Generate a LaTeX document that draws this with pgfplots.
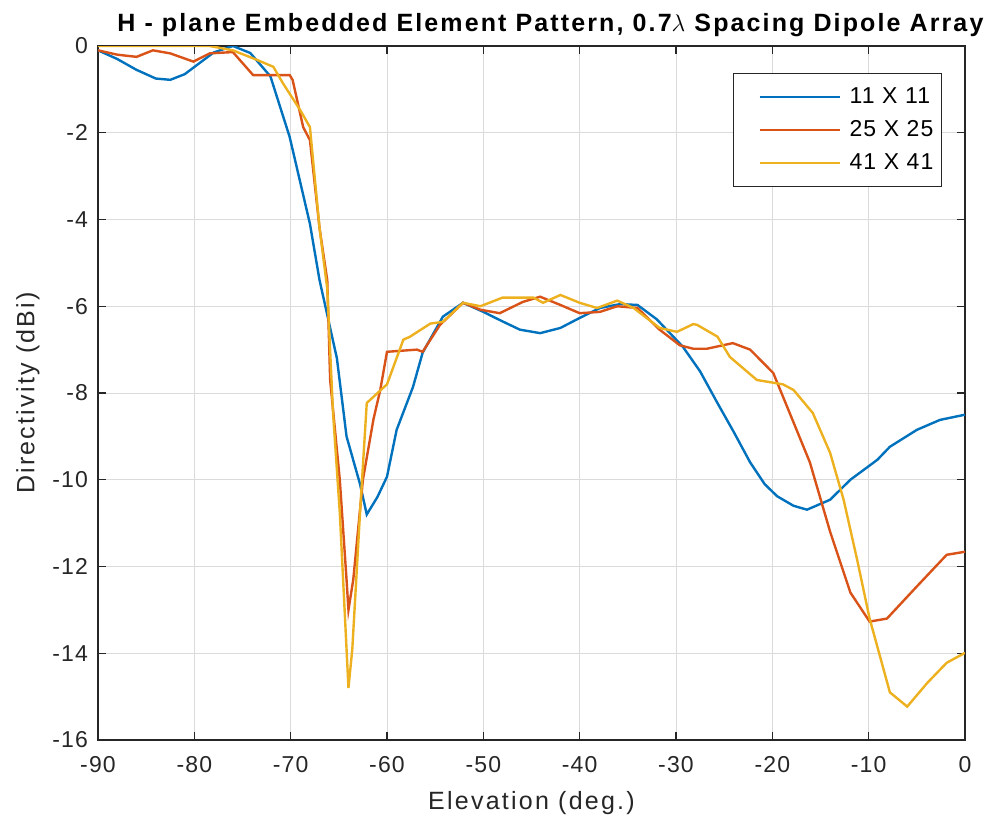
\documentclass[border=0pt]{standalone}
\usepackage{pgfplots}
\pgfplotsset{compat=1.18}
\usepackage{fontspec}
\setmainfont{Liberation Sans}
\definecolor{mblue}{rgb}{0,0.447,0.741}
\definecolor{morange}{rgb}{0.85,0.325,0.098}
\definecolor{myellow}{rgb}{0.929,0.694,0.125}
\definecolor{axgray}{gray}{0.15}
\begin{document}
\begin{tikzpicture}
\path[use as bounding box] (-49pt,-40.5pt) rectangle (448.5pt,370pt);
\begin{axis}[
  at={(0,0)}, anchor=south west,
  scale only axis, width=433.5pt, height=347pt,
  xmin=-90, xmax=0, ymin=-16, ymax=0,
  xtick={-90,-80,...,0}, ytick={-16,-14,...,0},
  /pgf/number format/assume math mode=true,
  xticklabels={-90,-80,-70,-60,-50,-40,-30,-20,-10,0},
  yticklabels={-16,-14,-12,-10,-8,-6,-4,-2,0},
  tick label style={font=\fontsize{11.5}{13}\selectfont\addfontfeature{LetterSpace=5}, text=axgray},
  xticklabel style={yshift=-4.5pt},
  yticklabel style={xshift=-1.5pt},
  grid=major, major grid style={gray!28, line width=0.45pt},
  axis line style={axgray, line width=0.55pt},
  tick style={axgray, line width=0.55pt},
  tick align=inside, major tick length=4.2pt,
  xtick pos=both, ytick pos=both,
  title={\textbf{H - plane Embedded Element Pattern, 0.7$\lambda$ Spacing Dipole Array}},
  title style={font=\fontsize{12.5}{14}\selectfont\addfontfeature{LetterSpace=8.5}, at={(0.5,1)}, anchor=center, yshift=4.7pt, xshift=10pt},
  xlabel={Elevation (deg.)}, ylabel={Directivity (dBi)},
  label style={font=\fontsize{12.5}{14}\selectfont\addfontfeature{LetterSpace=9}, text=axgray},
  xlabel style={at={(0.5,0)}, anchor=center, yshift=-31.5pt},
  ylabel style={at={(-0.0807,0.5)}, anchor=center},
  legend style={at={(0.9735,0.961)}, anchor=north east, draw=axgray, line width=0.55pt,
    font=\fontsize{11.5}{13}\selectfont\addfontfeature{LetterSpace=5}, row sep=3pt, inner xsep=0.5pt, inner ysep=5pt,
    nodes={inner xsep=3.5pt}},
  legend cell align=left,
  legend image code/.code={\path[draw=none] (0,0) -- (54pt,0); \draw[#1, line width=1.2pt] (12.5pt,0) -- (52.5pt,0);},
  every axis plot/.append style={line width=1.2pt},
]
\addplot[mblue] coordinates {
(-90,-0.1)(-88,-0.3)(-86,-0.55)(-84,-0.75)(-82.5,-0.78)(-81,-0.65)(-79.5,-0.4)(-78,-0.15)(-76,0)(-74.2,-0.16)(-72.1,-0.7)(-70.1,-2.1)(-68,-4.1)(-67,-5.4)(-65.2,-7.2)(-64.2,-9.0)(-62.8,-10.1)(-62.1,-10.8)(-61,-10.4)(-60,-9.93)(-59,-8.85)(-57.3,-7.86)(-56.3,-7.07)(-54.2,-6.24)(-52.1,-5.92)(-50,-6.13)(-48,-6.35)(-46.2,-6.54)(-44.1,-6.62)(-42,-6.5)(-40,-6.27)(-37.9,-6.04)(-35.8,-5.95)(-34,-5.97)(-32,-6.3)(-29.3,-6.93)(-27.5,-7.5)(-25.7,-8.23)(-24,-8.9)(-22.3,-9.6)(-20.8,-10.1)(-19.5,-10.38)(-17.8,-10.6)(-16.4,-10.69)(-14,-10.46)(-11.9,-10.0)(-9.1,-9.54)(-7.8,-9.24)(-5,-8.85)(-2.6,-8.62)(0,-8.5)
};
\addlegendentry{11 X 11}
\addplot[morange] coordinates {
(-90,-0.1)(-88,-0.2)(-86,-0.25)(-84.3,-0.1)(-82.5,-0.17)(-80.1,-0.36)(-78.4,-0.17)(-76,-0.14)(-73.9,-0.67)(-70.1,-0.67)(-69.8,-0.78)(-68.7,-1.87)(-68,-2.17)(-67,-4.2)(-66.2,-5.4)(-65.9,-7.7)(-64.9,-10.0)(-64.2,-12.3)(-64,-13.0)(-63.5,-12.3)(-62.5,-10.0)(-61.4,-8.6)(-60.7,-7.93)(-60,-7.05)(-56.9,-7.0)(-56.3,-7.05)(-54.5,-6.43)(-52.1,-5.92)(-50.3,-6.08)(-48.3,-6.16)(-45.9,-5.9)(-44.1,-5.78)(-42,-5.97)(-40,-6.16)(-37.9,-6.13)(-36.1,-6.0)(-34,-6.04)(-31.7,-6.54)(-29.6,-6.9)(-28.2,-6.98)(-26.8,-6.98)(-24.1,-6.85)(-22.3,-7.0)(-19.9,-7.54)(-18.2,-8.46)(-16.1,-9.6)(-14,-11.2)(-11.9,-12.6)(-9.9,-13.27)(-8.1,-13.2)(-5,-12.46)(-1.9,-11.73)(0,-11.66)
};
\addlegendentry{25 X 25}
\addplot[myellow] coordinates {
(-90,0)(-80,0)(-78.4,0)(-76,-0.1)(-73.5,-0.32)(-71.8,-0.48)(-70.8,-0.86)(-69,-1.48)(-68,-1.87)(-67,-4.2)(-66.2,-5.6)(-65.6,-8.46)(-64.9,-10.76)(-64.2,-13.9)(-64,-14.8)(-63.6,-13.9)(-62.8,-10.76)(-62.1,-8.23)(-60,-7.8)(-58.3,-6.77)(-57.6,-6.7)(-55.5,-6.4)(-54.2,-6.36)(-52.1,-5.92)(-50.3,-6.0)(-48,-5.8)(-44.8,-5.8)(-43.8,-5.92)(-42,-5.74)(-40,-5.92)(-38.2,-6.04)(-36.1,-5.87)(-34.4,-6.04)(-31.7,-6.5)(-29.9,-6.59)(-28.2,-6.41)(-27.8,-6.43)(-25.7,-6.7)(-24.4,-7.17)(-21.6,-7.7)(-18.9,-7.8)(-17.8,-7.93)(-15.8,-8.46)(-14,-9.38)(-12.6,-10.46)(-11.2,-11.84)(-9.9,-13.2)(-7.8,-14.9)(-6,-15.23)(-3.9,-14.68)(-1.9,-14.22)(0,-13.99)
};
\addlegendentry{41 X 41}
\end{axis}
\end{tikzpicture}
\end{document}
